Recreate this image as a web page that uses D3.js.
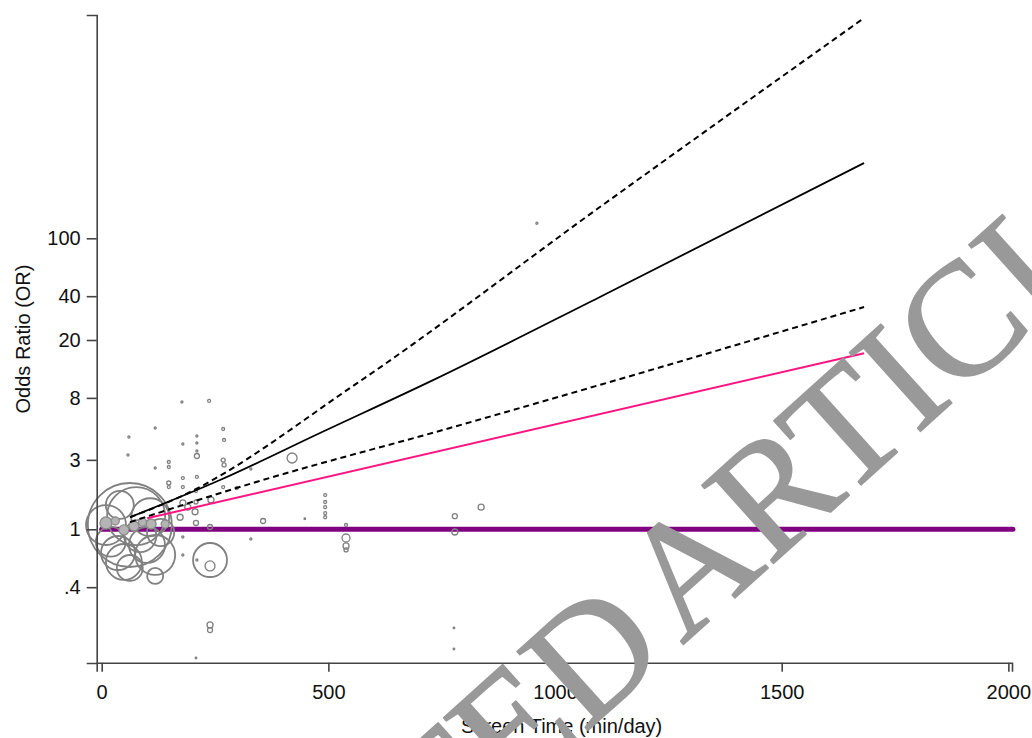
<!DOCTYPE html>
<html>
<head>
<meta charset="utf-8">
<script src="https://cdn.jsdelivr.net/npm/d3@7"></script>
<style>
  html, body { margin: 0; padding: 0; background: #fff; }
  svg { display: block; }
  text { font-family: "Liberation Sans", Arial, sans-serif; }
</style>
</head>
<body>
<svg id="chart" width="1032" height="738"></svg>
<script>
// ---------- data ----------
const xTickValues = [0, 500, 1000, 1500, 2000];
const yTickValues = [0.4, 1, 3, 8, 20, 40, 100];
const yTickLabels = [".4", "1", "3", "8", "20", "40", "100"];
const xTitle = "Screen Time (min/day)";
const yTitle = "Odds Ratio (OR)";
const watermark = "RETRACTED ARTICLE";

// individual study estimates (hollow bubbles): screen time, OR, weight
const studyTime = [62, 76, 9.5, 107, 36, 49, 62, 100, 118, 118, 239, 239, 420, 539, 539, 40,
  237, 177, 118, 60, 210, 210, 268, 270, 179, 210, 210, 58, 148, 148, 268, 270, 118, 179, 210,
  148, 148, 268, 298, 179, 208, 329, 241, 179, 208, 208, 239, 356, 493, 493, 493, 493, 493, 448,
  539, 539, 329, 179, 179, 210, 239, 239, 208, 837, 779, 779, 777, 777, 960, 190, 206, 173,
  20, 85, 130];
const studyOR = [1.07, 1.23, 1.07, 1.21, 0.687, 0.596, 0.542, 0.78, 0.666, 0.478, 0.615, 0.56, 3.09, 0.871, 0.768, 1.47,
  7.62, 7.5, 4.97, 4.31, 4.38, 3.92, 4.89, 4.11, 3.86, 3.45, 3.19, 3.24, 2.9, 2.68, 2.99, 2.77, 2.64, 2.25, 2.29,
  2.08, 1.95, 1.95, 1.92, 1.95, 1.83, 2.6, 1.59, 1.52, 1.54, 1.105, 1.037, 1.14, 1.72, 1.54, 1.42, 1.29, 1.21, 1.18,
  1.07, 0.721, 0.858, 0.885, 0.666, 0.615, 0.22, 0.203, 0.1305, 1.42, 1.23, 0.958, 0.21, 0.1504, 127, 1.42, 1.32, 1.21,
  0.82, 0.9, 0.95];
const studyWeight = [954, 455, 216, 195, 156, 175, 91, 175, 216, 35, 156, 13.5, 13.5, 8.7, 4.9, 106,
  1.2, 0.6, 0.6, 0.6, 0.6, 0.6, 1.2, 1.2, 0.6, 0.6, 3.4, 0.6, 1.2, 1.2, 2.2, 2.2, 0.6, 1.2, 1.2,
  2.2, 1.2, 1.2, 1.2, 1.2, 1.2, 0.6, 4.9, 4.9, 2.2, 3.4, 3.4, 3.4, 1.2, 1.2, 1.2, 1.2, 1.2, 0.35,
  1.2, 2.2, 0.6, 0.6, 0.6, 0.6, 4.9, 3.4, 0.35, 4.9, 3.4, 4.9, 0.35, 0.35, 0.6, 4.9, 4.9, 4.9,
  120, 140, 100];

// overlapping small estimates in the dense cluster (appear shaded)
const clusterTime = [9.5, 71, 109, 49, 140, 30, 90];
const clusterOR = [1.105, 1.053, 1.087, 0.99, 1.087, 1.14, 1.12];
const clusterWeight = [19.5, 13.5, 13.5, 13.5, 8.7, 8.7, 8.7];

// meta-regression fit (solid) and confidence bounds (dashed)
const fitTime = [62.4, 261, 481.6, 730.9, 1099, 1681.7];
const fitOR = [1.21, 2.18, 4.59, 10.6, 39.5, 329];
const upperTime = [62.4, 172.7, 563.4, 1099, 1681.7];
const upperOR = [1.21, 1.67, 10.1, 164, 3266];
const lowerTime = [62.4, 333.5, 768.4, 1106, 1681.7];
const lowerOR = [1.12, 2.08, 4.97, 9.97, 33.7];
// pink line
const pinkTime = [100.2, 1681.7];
const pinkOR = [1.19, 16.2];
// reference line at OR = 1
const refTime = [0, 2010];
const refOR = [1, 1];

// ---------- drawing ----------
const svg = d3.select("#chart");
const x = d3.scaleLinear().domain([-11, 2008]).range([96.7, 1012]);
const y = d3.scaleLog().domain([0.1205, 3425]).range([663, 15]);
const r = d3.scaleSqrt().domain([0, 1000]).range([0, 43]);

const zip = (a, b) => a.map((v, i) => [v, b[i]]);
const line = d3.line().x(d => x(d[0])).y(d => y(d[1]));
const smooth = d3.line().x(d => x(d[0])).y(d => y(d[1])).curve(d3.curveMonotoneX);

// reference line
svg.append("path").datum(zip(refTime, refOR)).attr("d", line)
  .attr("fill", "none").attr("stroke", "#800080").attr("stroke-width", 5).attr("stroke-linecap", "round");

// bubbles
svg.append("g").selectAll("circle").data(zip(studyTime, studyOR).map((d, i) => [...d, studyWeight[i]]))
  .join("circle")
  .attr("cx", d => x(d[0])).attr("cy", d => y(d[1])).attr("r", d => Math.max(r(d[2]), 0.6))
  .attr("fill", "none").attr("stroke", "#808080")
  .attr("stroke-width", d => r(d[2]) > 6 ? 1.8 : 1.3);

svg.append("g").selectAll("circle").data(zip(clusterTime, clusterOR).map((d, i) => [...d, clusterWeight[i]]))
  .join("circle")
  .attr("cx", d => x(d[0])).attr("cy", d => y(d[1])).attr("r", d => r(d[2]))
  .attr("fill", "#b4b4b4").attr("stroke", "#8c8c8c").attr("stroke-width", 1.3);

// fit lines
svg.append("path").datum(zip(upperTime, upperOR)).attr("d", smooth)
  .attr("fill", "none").attr("stroke", "#000").attr("stroke-width", 2).attr("stroke-dasharray", "6,4");
svg.append("path").datum(zip(lowerTime, lowerOR)).attr("d", smooth)
  .attr("fill", "none").attr("stroke", "#000").attr("stroke-width", 2).attr("stroke-dasharray", "6,4");
svg.append("path").datum(zip(fitTime, fitOR)).attr("d", smooth)
  .attr("fill", "none").attr("stroke", "#000").attr("stroke-width", 1.8);
svg.append("path").datum(zip(pinkTime, pinkOR)).attr("d", line)
  .attr("fill", "none").attr("stroke", "#ff1480").attr("stroke-width", 2);

// axes
const gx = svg.append("g").attr("transform", "translate(0,662.7)")
  .call(d3.axisBottom(x).tickValues(xTickValues).tickFormat(d3.format("d")).tickSizeOuter(0).tickSize(9).tickPadding(13));
const gy = svg.append("g").attr("transform", "translate(96.7,0)")
  .call(d3.axisLeft(y).tickValues(yTickValues).tickFormat((d, i) => yTickLabels[i]).tickSizeOuter(0).tickSize(10).tickPadding(6));
[gx, gy].forEach(g => {
  g.select(".domain").attr("stroke", "#444").attr("stroke-width", 1.6);
  g.selectAll(".tick line").attr("stroke", "#444").attr("stroke-width", 1.6);
  g.selectAll(".tick text").attr("fill", "#111").style("font-size", "20px")
    .style("font-family", "'Liberation Sans', Arial, sans-serif");
});

svg.append("text").attr("x", 561.7).attr("y", 733).attr("text-anchor", "middle")
  .style("font-size", "20px").attr("fill", "#111").text(xTitle);
svg.append("text").attr("transform", "translate(30,339) rotate(-90)").attr("text-anchor", "middle")
  .style("font-size", "20px").attr("fill", "#111").text(yTitle);

// watermark
svg.append("text").attr("transform", "translate(573,744) rotate(-42)")
  .attr("text-anchor", "middle")
  .style("font-family", "'Liberation Serif', 'Times New Roman', serif")
  .style("font-size", "162px").style("word-spacing", "-17px")
  .attr("fill", "#999999")
  .attr("stroke", "#999999").attr("stroke-width", 1.5).attr("stroke-linejoin", "round")
  .text(watermark);
</script>
</body>
</html>
